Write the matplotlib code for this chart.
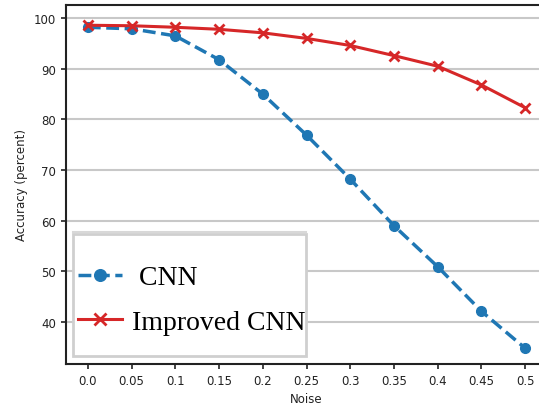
import matplotlib
matplotlib.use('Agg')
import matplotlib.pyplot as plt
from matplotlib.patches import Rectangle

noise = [0.0, 0.05, 0.1, 0.15, 0.2, 0.25, 0.3, 0.35, 0.4, 0.45, 0.5]
tick_labels = ['0.0', '0.05', '0.1', '0.15', '0.2', '0.25', '0.3', '0.35', '0.4', '0.45', '0.5']
cnn = [98.2, 97.9, 96.5, 91.8, 85.0, 76.9, 68.2, 59.0, 50.9, 42.1, 34.8]
improved_cnn = [98.6, 98.5, 98.2, 97.8, 97.1, 96.0, 94.6, 92.6, 90.5, 86.8, 82.3]

fig = plt.figure(figsize=(5.39, 4.10), dpi=100)
ax = fig.add_axes([0.1224, 0.1098, 0.8926, 0.8756])

ax.plot(noise, cnn, color='#1f77b4', linestyle='--', linewidth=2.5,
        marker='o', markersize=7, label=' CNN', zorder=3)
ax.plot(noise, improved_cnn, color='#d62728', linestyle='-', linewidth=2.2,
        marker='x', markersize=7, markeredgewidth=2, label='Improved CNN', zorder=4)

ax.set_xlim(-0.025, 0.525)
ax.set_ylim(31.7, 102.6)
ax.set_xticks(noise)
ax.set_xticklabels(tick_labels)
ax.set_yticks([40, 50, 60, 70, 80, 90, 100])
ax.tick_params(labelsize=8.5, colors='#222222', width=1.2)
ax.yaxis.grid(True, color='#c8c8c8', linewidth=1.5)
ax.set_axisbelow(True)
for s in ax.spines.values():
    s.set_linewidth(1.5)
    s.set_color('#222222')

ax.set_xlabel('Noise', fontsize=8.5, color='#222222')
ax.set_ylabel('Accuracy (percent)', fontsize=8.5, color='#222222')

# legend box (pasted-in look)
box = Rectangle((0.0146, 0.0223), 0.4844, 0.3397, transform=ax.transAxes,
                facecolor='white', edgecolor='#cfcfcf', linewidth=2, zorder=5)
ax.add_patch(box)
ax.plot([0.0146, 0.499], [0.368, 0.368], transform=ax.transAxes,
        color='#d8d8d8', linewidth=1.5, zorder=5)

leg = ax.legend(loc='upper left', bbox_to_anchor=(0.025, 0.276), borderaxespad=0,
                prop={'family': 'Liberation Serif', 'size': 20},
                frameon=False, handlelength=1.6, handletextpad=0.36,
                borderpad=0, labelspacing=0.68, markerscale=1.2)
leg.set_zorder(6)

fig.savefig('out.png', dpi=100)
